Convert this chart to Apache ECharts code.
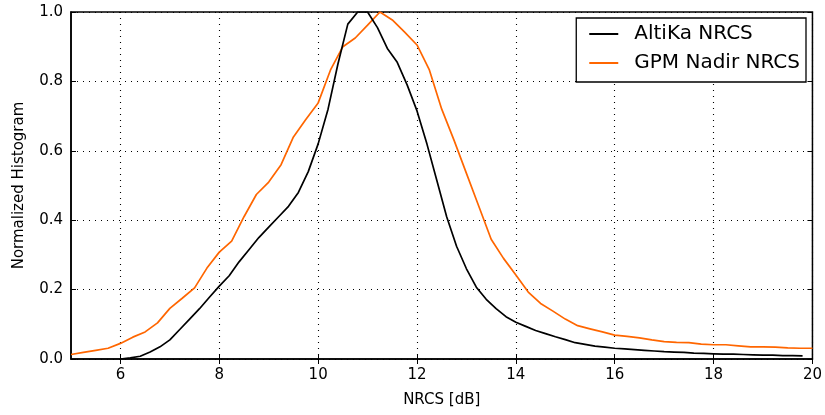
<!DOCTYPE html>
<html><head><meta charset="utf-8">
<script src="https://cdn.jsdelivr.net/npm/echarts@6/dist/echarts.min.js"></script>
<style>html,body{margin:0;padding:0;background:#fff}#c{width:825px;height:415px}</style>
</head><body><div id="c"></div>
<script>
const altikaX = [6.0,6.2,6.4,6.6,6.8,7.0,7.2,7.4,7.6,7.8,8.0,8.2,8.4,8.6,8.8,9.0,9.2,9.4,9.6,9.8,10.0,10.2,10.4,10.6,10.8,11.0,11.2,11.4,11.6,11.8,12.0,12.2,12.4,12.6,12.8,13.0,13.2,13.4,13.6,13.8,14.0,14.2,14.4,14.6,14.8,15.0,15.2,15.4,15.6,15.8,16.0,16.2,16.4,16.6,16.8,17.0,17.2,17.4,17.6,17.8,18.0,18.2,18.4,18.6,18.8,19.0,19.2,19.4,19.6,19.8];
const altikaY = [0.0,0.003,0.008,0.02,0.035,0.055,0.085,0.115,0.145,0.178,0.21,0.24,0.28,0.315,0.35,0.38,0.41,0.44,0.48,0.54,0.62,0.72,0.85,0.965,1.0,1.0,0.955,0.895,0.855,0.79,0.715,0.62,0.515,0.41,0.325,0.26,0.207,0.172,0.145,0.122,0.106,0.094,0.082,0.073,0.064,0.056,0.047,0.042,0.037,0.034,0.031,0.029,0.027,0.025,0.023,0.021,0.02,0.019,0.017,0.016,0.015,0.014,0.014,0.013,0.012,0.011,0.011,0.01,0.01,0.009];
const gpmX = [5.0,5.25,5.5,5.75,6.0,6.25,6.5,6.75,7.0,7.25,7.5,7.75,8.0,8.25,8.5,8.75,9.0,9.25,9.5,9.75,10.0,10.25,10.5,10.75,11.0,11.25,11.5,11.75,12.0,12.25,12.5,12.75,13.0,13.25,13.5,13.75,14.0,14.25,14.5,14.75,15.0,15.25,15.5,15.75,16.0,16.25,16.5,16.75,17.0,17.25,17.5,17.75,18.0,18.25,18.5,18.75,19.0,19.25,19.5,19.75,20.0];
const gpmY = [0.013,0.019,0.025,0.031,0.045,0.063,0.078,0.104,0.146,0.175,0.205,0.262,0.308,0.34,0.41,0.474,0.51,0.56,0.64,0.69,0.738,0.833,0.9,0.925,0.962,1.0,0.977,0.942,0.905,0.833,0.72,0.63,0.535,0.44,0.345,0.29,0.242,0.193,0.16,0.138,0.115,0.096,0.087,0.078,0.069,0.065,0.061,0.055,0.05,0.048,0.047,0.043,0.041,0.041,0.038,0.035,0.035,0.034,0.032,0.031,0.031];
const xTicks = [6,8,10,12,14,16,18,20];
const seriesNames = ['AltiKa NRCS','GPM Nadir NRCS'];

const chart = echarts.init(document.getElementById('c'), null, {renderer:'canvas'});
const font = 'DejaVu Sans';
const pairs = (xs, ys) => xs.map((x,i)=>[x, ys[i]]);
const gridStyle = {show:true, lineStyle:{color:'#000', type:[1,5], width:1.1}};
chart.setOption({
  animation:false,
  backgroundColor:'#fff',
  grid:{left:71, right:9, top:12, bottom:56, show:true, borderColor:'#000', borderWidth:1.5, backgroundColor:'transparent'},
  legend:{
    right:19, top:18, orient:'vertical', itemWidth:29, itemHeight:2, itemGap:9,
    padding:[6,6,9,13],
    borderColor:'#000', borderWidth:1.3, backgroundColor:'#fff',
    textStyle:{fontFamily:font, fontSize:20, lineHeight:20, color:'#000', padding:[0,0,0,11]},
    icon:'rect',
    data:seriesNames
  },
  xAxis:[{
    type:'value', min:5, max:20,
    name:'NRCS [dB]', nameLocation:'middle', nameGap:34,
    nameTextStyle:{fontFamily:font, fontSize:15, color:'#000'},
    axisLine:{show:true, lineStyle:{color:'#000', width:1.5}},
    axisTick:{show:true, inside:true, length:5, customValues:xTicks, lineStyle:{color:'#000'}},
    axisLabel:{customValues:xTicks, fontFamily:font, fontSize:15, color:'#000', margin:9},
    splitLine:gridStyle
  },{
    type:'value', min:5, max:20, position:'top',
    axisLine:{show:false},
    axisTick:{show:true, inside:true, length:5, customValues:xTicks, lineStyle:{color:'#000'}},
    axisLabel:{show:false}, splitLine:{show:false}
  }],
  yAxis:[{
    type:'value', min:0, max:1, interval:0.2,
    name:'Normalized Histogram', nameLocation:'middle', nameGap:44,
    nameTextStyle:{fontFamily:font, fontSize:15, color:'#000'},
    axisLine:{show:true, lineStyle:{color:'#000', width:1.5}},
    axisTick:{show:true, inside:true, length:5, lineStyle:{color:'#000'}},
    axisLabel:{fontFamily:font, fontSize:15, color:'#000', margin:8, formatter:v=>v.toFixed(1)},
    splitLine:gridStyle
  },{
    type:'value', min:0, max:1, interval:0.2, position:'right',
    axisLine:{show:false},
    axisTick:{show:true, inside:true, length:5, lineStyle:{color:'#000'}},
    axisLabel:{show:false}, splitLine:{show:false}
  }],
  series:[
    {name:seriesNames[0], type:'line', data:pairs(altikaX, altikaY), showSymbol:false, color:'#000', lineStyle:{width:1.7, color:'#000'}, z:3},
    {name:seriesNames[1], type:'line', data:pairs(gpmX, gpmY), showSymbol:false, color:'#ff6600', lineStyle:{width:1.7, color:'#ff6600'}, z:2}
  ]
});
</script></body></html>
